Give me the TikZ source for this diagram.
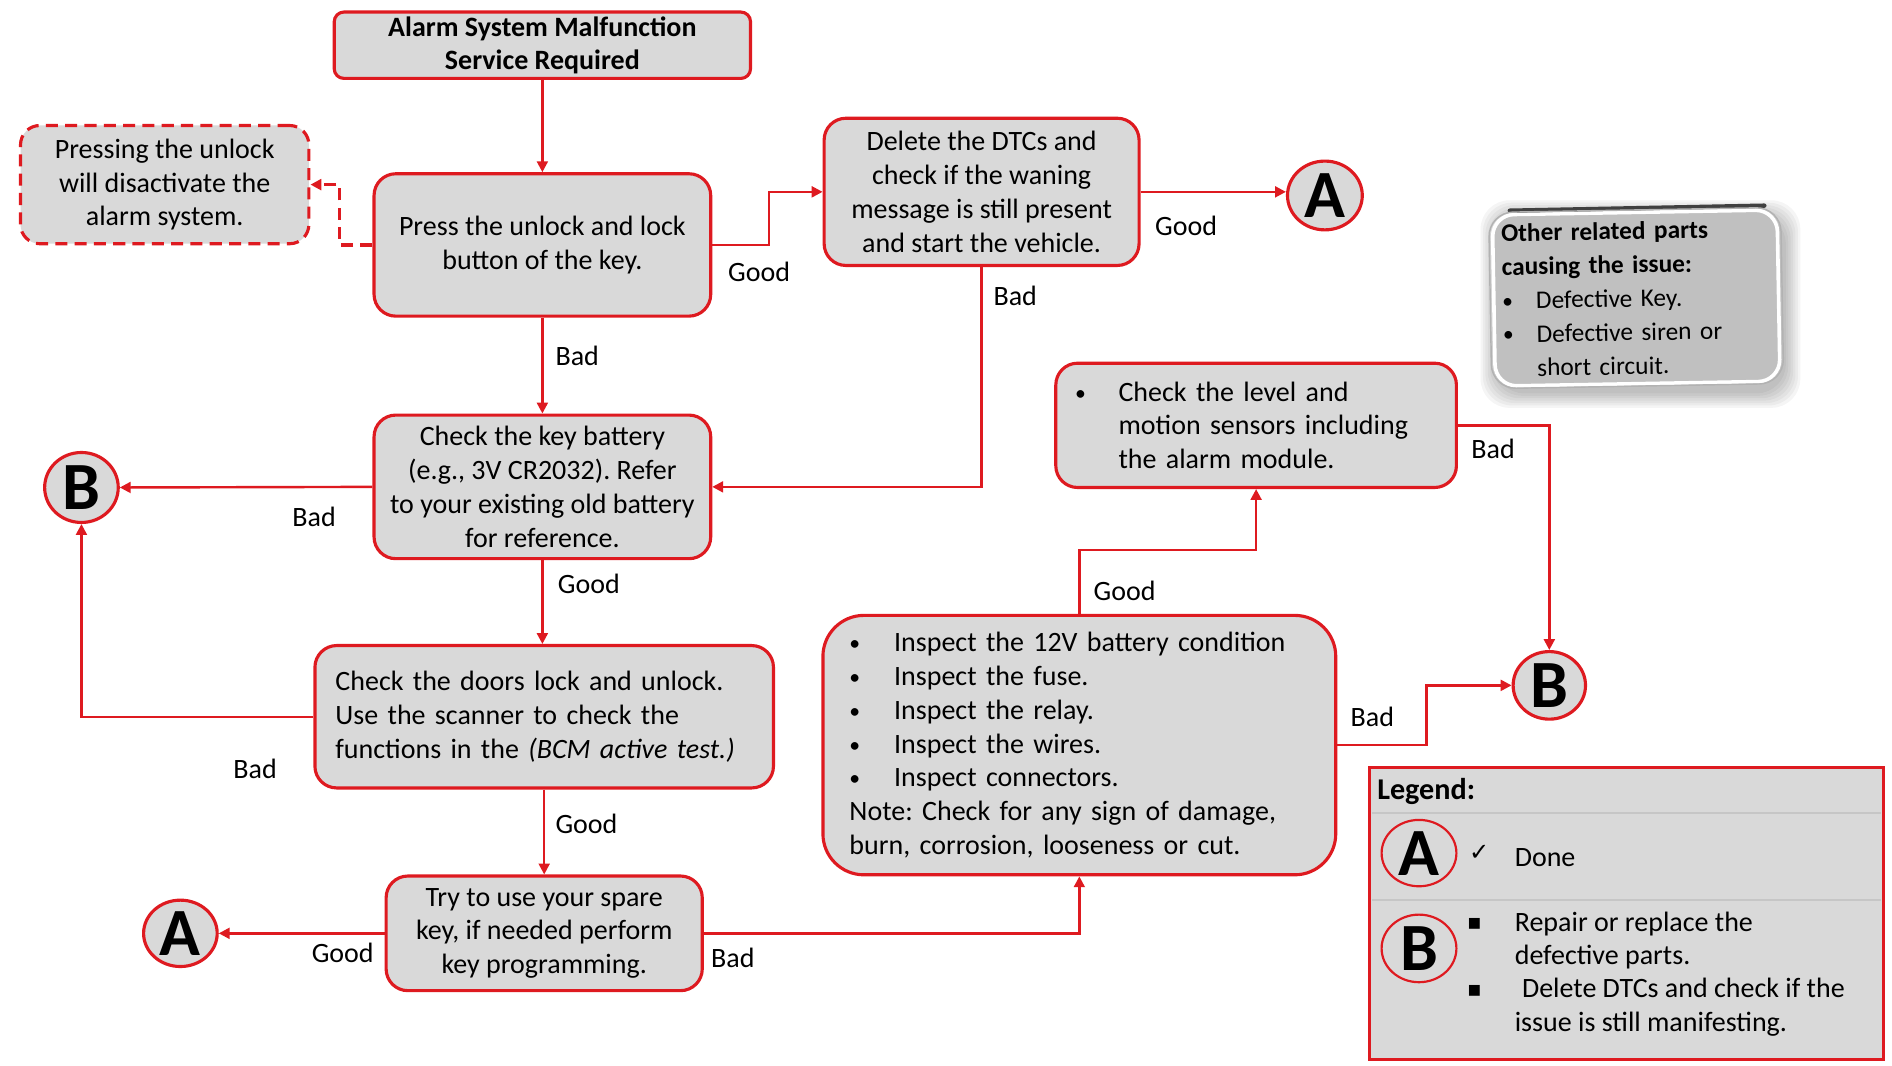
\documentclass[tikz,border=0pt]{standalone}
\usepackage{fontspec}
\setmainfont{Carlito}
\newfontfamily\dejavu{DejaVu Sans}
\usetikzlibrary{arrows.meta,shapes.geometric,calc}
\definecolor{rd}{RGB}{222,26,32}
\definecolor{bx}{RGB}{217,217,217}
\definecolor{ob}{RGB}{192,192,192}
\newcommand\mybul{\raisebox{0.4pt}{\fontsize{9}{9}\selectfont •}}
\begin{document}
\frenchspacing
\begin{tikzpicture}[x=0.5pt,y=-0.5pt,
  every node/.style={font=\fontsize{11.6}{14}\selectfont, inner sep=0pt},
  box/.style={draw=rd, line width=1.3pt, fill=bx, rounded corners=9pt, align=center},
  circ/.style={ellipse, draw=rd, line width=1.3pt, fill=bx, font=\fontsize{28}{30}\selectfont\bfseries},
  lcirc/.style={ellipse, draw=rd, line width=0.9pt, font=\fontsize{28}{30}\selectfont\bfseries},
  conn/.style={draw=rd, line width=1pt, -{Triangle[length=4.5pt,width=4.5pt]}},
  lbl/.style={anchor=west},
  sepline/.style={draw=gray!45, line width=1pt},
]
\useasboundingbox (0,0) rectangle (1568,883);

% main boxes
\node[box, rounded corners=4pt, minimum width=172.5pt, minimum height=27.5pt,
      font=\fontsize{11.6}{13.5}\selectfont\bfseries] (title) at (449.5,37.5)
      {Alarm System Malfunction\\Service Required};
\node[box, dash pattern=on 5pt off 3pt, rounded corners=8pt, minimum width=119.5pt, minimum height=49pt]
      (note) at (136.5,153) {Pressing the unlock\\will disactivate the\\alarm system.};
\node[box, minimum width=139.5pt, minimum height=59pt] (press) at (449.5,203)
      {Press the unlock and lock\\button of the key.};
\node[box, minimum width=130.5pt, minimum height=61pt] (delete) at (813.5,159)
      {Delete the DTCs and\\check if the waning\\message is still present\\and start the vehicle.};
\node[circ, minimum width=31pt, minimum height=28.5pt] (A1) at (1098,162) {A};

% other related parts box
\foreach \i in {1,...,7} {
  \fill[black, opacity=0.04, rounded corners=12pt] (1238-\i*2+3,176-\i*2+4) rectangle (1474+\i*2+4,318+\i*2+6);
}
\node[draw=white, line width=1.5pt, fill=ob, rounded corners=9pt, align=left, text width=111pt, rotate=1,
      minimum width=118pt, minimum height=71pt, font=\fontsize{10.5}{14}\selectfont] (other) at (1356,247)
      {\textbf{Other related parts}\\\textbf{causing the issue:}\\\makebox[14pt][l]{\mybul}Defective Key.\\\makebox[14pt][l]{\mybul}Defective siren or\\\hspace*{14pt}short circuit.};
\draw[black!75, line width=1.8pt, line cap=round] ($(other.north west)+(16,-2)$) -- ($(other.north east)+(-12,-2)$);
\draw[gray!60, line width=0.6pt, rounded corners=10pt, rotate around={1:(other.center)}]
      ($(other.center)+(-121,73)$) rectangle ($(other.center)+(121,-73)$);

\node[box, align=left, text width=150pt, minimum width=166pt, minimum height=51.5pt] (level) at (1041,352.5)
      {\makebox[18pt][l]{\mybul}Check the level and\\\hspace*{18pt}motion sensors including\\\hspace*{18pt}the alarm module.};
\node[box, minimum width=139.5pt, minimum height=59.5pt] (battery) at (449.5,403.5)
      {Check the key battery\\(e.g., 3V CR2032). Refer\\to your existing old battery\\for reference.};
\node[circ, minimum width=30.5pt, minimum height=29pt] (B1) at (67.5,404) {B};
\node[box, align=left, text width=173pt, minimum width=190pt, minimum height=59pt] (doors) at (451,594)
      {Check the doors lock and unlock.\\Use the scanner to check the\\functions in the \textit{(BCM active test.)}};
\node[box, rounded corners=17pt, align=left, text width=190.5pt, minimum width=212.5pt, minimum height=107.5pt]
      (inspect) at (894.5,617.5)
      {\makebox[18.5pt][l]{\mybul}Inspect the 12V battery condition\\
       \makebox[18.5pt][l]{\mybul}Inspect the fuse.\\
       \makebox[18.5pt][l]{\mybul}Inspect the relay.\\
       \makebox[18.5pt][l]{\mybul}Inspect the wires.\\
       \makebox[18.5pt][l]{\mybul}Inspect connectors.\\
       Note: Check for any sign of damage,\\
       burn, corrosion, looseness or cut.};
\node[circ, minimum width=30pt, minimum height=28pt] (B2) at (1284,568) {B};
\node[box, minimum width=131pt, minimum height=47.5pt] (spare) at (451,773.5)
      {Try to use your spare\\key, if needed perform\\key programming.};
\node[circ, minimum width=30.5pt, minimum height=27.5pt] (A2) at (149.5,773.5) {A};

% legend
\node[draw=rd, line width=1.5pt, fill=bx, minimum width=213pt, minimum height=121pt] (legend) at (1348,757) {};
\draw[sepline] (1137,674) -- (1559,674);
\draw[sepline] (1137,746) -- (1559,746);
\node[anchor=west, font=\fontsize{12.5}{14}\selectfont\bfseries] (legtitle) at (1141,656) {Legend:};
\node[lcirc, minimum width=31pt, minimum height=27.5pt] (LA) at (1176,707) {A};
\node (check) at (1226,707) {\dejavu\fontsize{10}{12}\selectfont ✓};
\node[anchor=west] (done) at (1255,711) {Done};
\node[lcirc, minimum width=31pt, minimum height=28pt] (LB) at (1176,786) {B};
\node (sq1) at (1222,766) {\dejavu\fontsize{9}{12}\selectfont ▪};
\node[anchor=west, align=left] (rep) at (1255,779.5) {Repair or replace the\\defective parts.};
\node (sq2) at (1222,821) {\dejavu\fontsize{9}{12}\selectfont ▪};
\node[anchor=west, align=left] (del) at (1255,835) {\hspace*{3pt}Delete DTCs and check if the\\issue is still manifesting.};

% connectors
\draw[conn] (title) -- (press);
\draw[conn, line width=1.3pt, dash pattern=on 5pt off 3pt] (press.west) -- ++(-27,0) |- (note.east);
\draw[conn] (press.east) -- ++(47,0) |- (delete.west);
\draw[conn] (delete.east) -- (delete.east -| A1.west);
\draw[conn] (delete.south) |- (battery.east);
\draw[conn] (press.south) -- (battery.north);
\draw[conn] (battery.west) -- (B1.east);
\draw[conn] (battery.south) -- (battery.south |- doors.north);
\draw[conn] (doors.west) -| (B1.south);
\draw[conn] (doors.south) -- (spare.north);
\draw[conn] (spare.west) -- (A2.east);
\draw[conn] (spare.east) -| (inspect.south);
\draw[conn] (inspect.north) -- ++(0,-53) -| (level.south);
\draw[conn] (level.east) -| (B2.north);
\draw[conn] (inspect.east) -- ++(74,0) |- (B2.west);

% labels
\node[lbl] (g1) at (603,225) {Good};
\node[lbl] (g2) at (957,187) {Good};
\node[lbl] (b1) at (823,245) {Bad};
\node[lbl] (b2) at (460,295) {Bad};
\node[lbl] (b3) at (242,428) {Bad};
\node[lbl] (g3) at (462,484) {Good};
\node[lbl] (b4) at (193,637) {Bad};
\node[lbl] (g4) at (460,683) {Good};
\node[lbl] (g5) at (258,790) {Good};
\node[lbl] (b5) at (589,794) {Bad};
\node[lbl] (g6) at (906,490) {Good};
\node[lbl] (b6) at (1219,372) {Bad};
\node[lbl] (b7) at (1119,594) {Bad};
\end{tikzpicture}
\end{document}
